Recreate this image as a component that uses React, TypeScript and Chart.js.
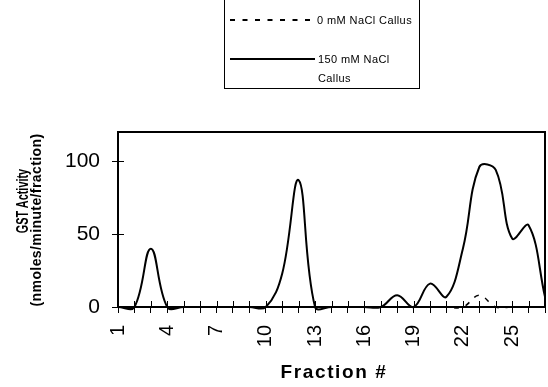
import React, { useEffect, useRef } from 'react';
import { Chart, registerables } from 'chart.js';

Chart.register(...registerables);

const fractions = [1, 2, 3, 4, 5, 6, 7, 8, 9, 10, 11, 12, 13, 14, 15, 16, 17, 18, 19, 20, 21, 22, 23, 24, 25, 26, 27];
const gst0mM = [0, 0, 0, 0, 0, 0, 0, 0, 0, 0, 0, 0, 0, 0, 0, 0, 0, 0, 0, 0, 0, 0, 8, 0, 0, 0, 0];
const gst150mM = [0, 0, 40, 0, 0, 0, 0, 0, 0, 0, 23, 87, 0, 0, 0, 0, 0, 8, 0, 16, 7, 40, 96, 94, 47, 56, 7];
const xTickLabels = [1, 4, 7, 10, 13, 16, 19, 22, 25];
const yTickValues = [0, 50, 100];
const seriesLabels = ['0 mM NaCl Callus', '150 mM NaCl Callus'];
const yTitleLines = ['GST Activity', '(nmoles/minute/fraction)'];
const xTitle = 'Fraction #';

const FONT = "'Liberation Sans', Arial, Helvetica, sans-serif";

const framePlugin = {
  id: 'frameAndInnerTicks',
  afterDatasetsDraw(chart: any) {
    const { ctx, chartArea } = chart;
    const { left, right, top, bottom } = chartArea;
    ctx.save();
    ctx.strokeStyle = '#000';
    ctx.lineWidth = 2;
    ctx.beginPath();
    ctx.moveTo(left, top);
    ctx.lineTo(right, top);
    ctx.lineTo(right, bottom);
    ctx.stroke();
    ctx.lineWidth = 1;
    ctx.beginPath();
    const xs = chart.scales.x;
    xs.ticks.forEach((t: any) => {
      const px = Math.round(xs.getPixelForValue(t.value)) + 0.5;
      ctx.moveTo(px, bottom - 6);
      ctx.lineTo(px, bottom);
    });
    const ys = chart.scales.y;
    ys.ticks.forEach((t: any) => {
      const py = Math.round(ys.getPixelForValue(t.value)) + 0.5;
      ctx.moveTo(left, py);
      ctx.lineTo(left + 6, py);
    });
    ctx.stroke();
    ctx.restore();
  },
};

export default function App() {
  const ref = useRef<HTMLCanvasElement>(null);

  useEffect(() => {
    if (!ref.current) return;
    const chart = new Chart(ref.current, {
      type: 'line',
      data: {
        datasets: [
          {
            label: seriesLabels[1],
            data: fractions.map((f, i) => ({ x: f, y: gst150mM[i] })),
            borderColor: '#000',
            borderWidth: 2,
            pointRadius: 0,
            tension: 0.4,
            clip: false as any,
            fill: false,
          },
          {
            label: seriesLabels[0],
            data: fractions.map((f, i) => ({ x: f, y: gst0mM[i] })),
            borderColor: '#000',
            borderWidth: 1.5,
            borderDash: [5, 7],
            pointRadius: 0,
            tension: 0.4,
            clip: false as any,
            fill: false,
          },
        ],
      },
      options: {
        responsive: false,
        animation: false,
        devicePixelRatio: 1,
        layout: { padding: { top: 132, right: 3, left: 0, bottom: 0 } },
        elements: { line: { capBezierPoints: false } },
        plugins: { legend: { display: false }, tooltip: { enabled: false } },
        scales: {
          x: {
            type: 'linear',
            min: 1,
            max: 27,
            afterFit(s: any) {
              s.height = 80;
              s.paddingLeft = 0;
              s.paddingRight = 0;
            },
            ticks: {
              stepSize: 1,
              autoSkip: false,
              minRotation: 90,
              maxRotation: 90,
              padding: 12,
              color: '#000',
              font: { family: FONT, size: 20 },
              callback: (v: any) => (xTickLabels.includes(Number(v)) ? String(v) : ''),
            },
            grid: { drawOnChartArea: false, tickLength: 6, color: '#000', lineWidth: 1 },
            border: { color: '#000', width: 2 },
          },
          y: {
            min: 0,
            max: 120,
            afterFit(s: any) {
              s.width = 118;
              s.paddingTop = 0;
              s.paddingBottom = 0;
            },
            afterBuildTicks(s: any) {
              s.ticks = yTickValues.map((v) => ({ value: v }));
            },
            ticks: {
              padding: 12,
              color: '#000',
              font: { family: FONT, size: 21 },
            },
            grid: { drawOnChartArea: false, tickLength: 6, color: '#000', lineWidth: 1 },
            border: { color: '#000', width: 2 },
          },
        },
      },
      plugins: [framePlugin],
    } as any);
    return () => chart.destroy();
  }, []);

  const rotated = (cx: number, cy: number, extra: string) =>
    ({
      position: 'absolute',
      left: cx,
      top: cy,
      whiteSpace: 'nowrap',
      lineHeight: 1,
      fontWeight: 'bold',
      transform: `translate(-50%, -50%) rotate(-90deg) ${extra}`,
    } as React.CSSProperties);

  const legendText: React.CSSProperties = {
    position: 'absolute',
    transform: 'translateY(-50%)',
    fontSize: 11,
    letterSpacing: 0.4,
    lineHeight: 1,
    whiteSpace: 'nowrap',
  };

  return (
    <div
      style={{
        position: 'absolute',
        left: 0,
        top: 0,
        width: 548,
        height: 387,
        background: '#fff',
        fontFamily: FONT,
        color: '#000',
        overflow: 'hidden',
      }}
    >
      <canvas
        ref={ref}
        width={548}
        height={387}
        style={{ position: 'absolute', left: 0, top: 0, width: 548, height: 387 }}
      />
      {/* Legend */}
      <div
        style={{
          position: 'absolute',
          left: 224,
          top: -2,
          width: 196,
          height: 91,
          border: '1px solid #000',
          boxSizing: 'border-box',
        }}
      />
      <svg style={{ position: 'absolute', left: 0, top: 0 }} width={548} height={100}>
        <line x1={230} y1={20} x2={311} y2={20} stroke="#000" strokeWidth={2} strokeDasharray="5 7.5" />
        <line x1={230} y1={59} x2={315} y2={59} stroke="#000" strokeWidth={2} />
      </svg>
      <div style={{ ...legendText, left: 317, top: 20 }}>{seriesLabels[0]}</div>
      <div style={{ ...legendText, left: 318, top: 59 }}>{seriesLabels[1].replace(' Callus', '')}</div>
      <div style={{ ...legendText, left: 318, top: 78 }}>Callus</div>
      {/* Y title */}
      <div style={{ ...rotated(23, 201, 'scaleX(0.68)'), fontSize: 16 }}>{yTitleLines[0]}</div>
      <div style={{ ...rotated(36, 220, ''), fontSize: 14, letterSpacing: 0.4 }}>{yTitleLines[1]}</div>
      {/* X title */}
      <div
        style={{
          position: 'absolute',
          left: 334,
          top: 371,
          transform: 'translate(-50%, -50%)',
          fontSize: 19,
          fontWeight: 'bold',
          letterSpacing: 1.6,
          lineHeight: 1,
          whiteSpace: 'nowrap',
        }}
      >
        {xTitle}
      </div>
    </div>
  );
}
